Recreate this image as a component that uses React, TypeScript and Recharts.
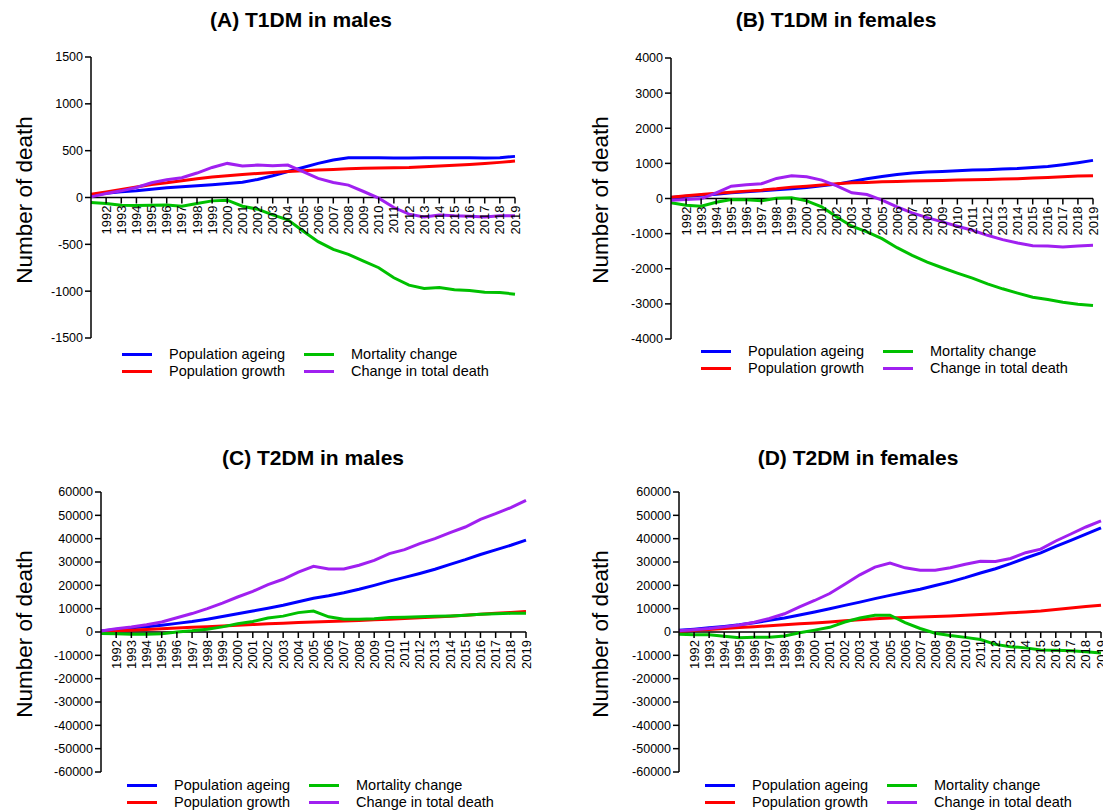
import React from 'react';
import { LineChart, Line, XAxis, YAxis, ReferenceLine, ReferenceDot } from 'recharts';

// Years on the horizontal axis (first point sits on the vertical axis)
const years = [
  1991, 1992, 1993, 1994, 1995, 1996, 1997, 1998, 1999, 2000,
  2001, 2002, 2003, 2004, 2005, 2006, 2007, 2008, 2009, 2010,
  2011, 2012, 2013, 2014, 2015, 2016, 2017, 2018, 2019,
];
// Labelled tick years
const xTickLabels = [
  1992, 1993, 1994, 1995, 1996, 1997, 1998, 1999, 2000, 2001,
  2002, 2003, 2004, 2005, 2006, 2007, 2008, 2009, 2010, 2011,
  2012, 2013, 2014, 2015, 2016, 2017, 2018, 2019,
];

// (A) T1DM in males
const ageingA = [25, 46, 60, 71, 89, 104, 114, 125, 136, 150, 164, 193, 232, 278, 321, 364, 400, 425, 425, 425, 421, 421, 425, 425, 425, 425, 421, 425, 439];
const growthA = [36, 60, 86, 111, 139, 157, 179, 200, 218, 232, 246, 257, 268, 278, 286, 293, 300, 307, 311, 314, 318, 321, 328, 336, 343, 353, 364, 375, 389];
const mortalityA = [-54, -64, -82, -86, -82, -79, -93, -64, -36, -29, -93, -125, -186, -239, -357, -471, -554, -607, -679, -750, -857, -936, -971, -961, -986, -993, -1011, -1014, -1032];
const totalA = [7, 43, 71, 107, 157, 189, 211, 261, 321, 364, 336, 346, 339, 346, 275, 204, 161, 132, 64, -7, -107, -178, -207, -186, -196, -200, -207, -196, -196];
const yTicksA = [-1500, -1000, -500, 0, 500, 1000, 1500];

// (B) T1DM in females
const ageingB = [29, 67, 95, 124, 162, 190, 219, 248, 276, 314, 362, 409, 486, 562, 628, 686, 724, 752, 771, 790, 809, 819, 838, 857, 886, 914, 962, 1019, 1085];
const growthB = [38, 76, 114, 152, 181, 210, 238, 276, 324, 352, 381, 419, 447, 457, 476, 486, 495, 505, 514, 524, 533, 543, 552, 562, 581, 600, 619, 638, 648];
const mortalityB = [-124, -190, -219, -105, -29, -38, -67, 10, 19, -67, -238, -524, -790, -952, -1143, -1400, -1619, -1810, -1971, -2124, -2267, -2429, -2571, -2695, -2810, -2876, -2952, -3010, -3048];
const totalB = [-48, -29, -10, 162, 352, 390, 419, 571, 648, 619, 524, 362, 162, 114, -48, -238, -410, -543, -667, -790, -905, -1048, -1171, -1267, -1343, -1352, -1381, -1352, -1333];
const yTicksB = [-4000, -3000, -2000, -1000, 0, 1000, 2000, 3000, 4000];

// (C) T2DM in males
const ageingC = [430, 1100, 1800, 2300, 2900, 3700, 4500, 5500, 6600, 7800, 9000, 10200, 11500, 13000, 14500, 15500, 16800, 18300, 20000, 21800, 23400, 25100, 26900, 29000, 31000, 33200, 35200, 37200, 39400];
const growthC = [200, 500, 800, 1100, 1400, 1700, 2000, 2300, 2600, 2900, 3200, 3500, 3800, 4100, 4300, 4500, 4700, 4900, 5200, 5500, 5800, 6100, 6400, 6800, 7200, 7600, 8000, 8400, 8800];
const mortalityC = [-600, -800, -1000, -1000, -800, 0, 500, 1200, 2200, 3500, 4500, 6000, 6800, 8300, 9000, 6500, 5500, 5500, 5700, 6200, 6300, 6500, 6700, 6900, 7200, 7600, 7800, 8000, 8000];
const totalC = [430, 1400, 2100, 3100, 4300, 6100, 7900, 10000, 12400, 15000, 17400, 20300, 22600, 25700, 28150, 27000, 27000, 28600, 30700, 33600, 35300, 37900, 40000, 42600, 45000, 48300, 50700, 53300, 56400];
const yTicksC = [-60000, -50000, -40000, -30000, -20000, -10000, 0, 10000, 20000, 30000, 40000, 50000, 60000];

// (D) T2DM in females
const ageingD = [700, 1200, 1800, 2400, 3100, 4000, 5000, 6000, 7300, 8600, 10000, 11400, 12800, 14300, 15700, 17000, 18300, 19900, 21500, 23300, 25300, 27100, 29300, 31700, 33900, 36700, 39300, 41900, 44600];
const growthD = [300, 700, 1100, 1500, 1900, 2300, 2700, 3100, 3500, 3900, 4300, 4800, 5200, 5700, 6000, 6200, 6400, 6600, 6900, 7200, 7500, 7800, 8200, 8600, 9000, 9600, 10300, 10900, 11500];
const mortalityD = [-1000, -1200, -1200, -1800, -2500, -2300, -2200, -1700, -300, 800, 2000, 4300, 6000, 7200, 7200, 4000, 1500, -500, -1500, -2300, -3200, -5300, -6300, -6800, -7700, -7800, -8000, -8500, -9000];
const totalD = [500, 1000, 1500, 2200, 3000, 4200, 5800, 7800, 10800, 13500, 16500, 20500, 24500, 27800, 29500, 27500, 26500, 26500, 27500, 29000, 30300, 30200, 31500, 34000, 35500, 39000, 42000, 45000, 47600];
const yTicksD = [-60000, -50000, -40000, -30000, -20000, -10000, 0, 10000, 20000, 30000, 40000, 50000, 60000];

const seriesNames = ['Population ageing', 'Population growth', 'Mortality change', 'Change in total death'];
const seriesKeys = ['ageing', 'growth', 'mortality', 'total'];
const seriesColors = ['#0000FF', '#FF0000', '#00C000', '#A020F0'];

const FONT = '"Liberation Sans", Arial, Helvetica, sans-serif';
const Y_AXIS_W = 60;

type Box = { left: number; top: number; width: number; height: number };
type Plot = { x0: number; x1: number; y0: number; y1: number };

type PanelProps = {
  title: string;
  titleAt: { cx: number; cy: number };
  box: Box;
  plot: Plot;
  yTicks: number[];
  series: number[][];
  yLabelAt: { cx: number; cy: number };
  legendAt: { x: number; y: number };
};

function buildRows(series: number[][]) {
  return years.map((yr, i) => {
    const row: Record<string, number> = { year: yr };
    seriesKeys.forEach((k, s) => {
      row[k] = series[s][i];
    });
    return row;
  });
}

// Tick mark hanging below the zero line plus a rotated year label
function YearTick({ cx, cy, label }: { cx: number; cy: number; label: string }) {
  const ty = cy + 8;
  return (
    <g>
      <line x1={cx} y1={cy} x2={cx} y2={cy + 6} stroke="#000" strokeWidth={1.5} />
      <text
        x={cx}
        y={ty}
        transform={`rotate(-90, ${cx}, ${ty})`}
        textAnchor="end"
        dominantBaseline="central"
        fontSize={13}
        fontFamily={FONT}
        fill="#000"
      >
        {label}
      </text>
    </g>
  );
}

function LegendBlock({ x, y }: { x: number; y: number }) {
  // two columns: ageing / growth, then mortality / total
  const order = [
    [0, 2],
    [1, 3],
  ];
  return (
    <div style={{ position: 'absolute', left: x, top: y - 8, fontFamily: FONT, fontSize: 14.5, color: '#000' }}>
      {order.map((row, r) => (
        <div key={r} style={{ position: 'relative', height: 17 }}>
          {row.map((s, c) => (
            <div key={s} style={{ position: 'absolute', left: c * 182, top: 0, height: 17, display: 'flex', alignItems: 'center', whiteSpace: 'nowrap' }}>
              <span style={{ display: 'inline-block', width: 30, height: 3, background: seriesColors[s] }} />
              <span style={{ marginLeft: 17, lineHeight: '17px' }}>{seriesNames[s]}</span>
            </div>
          ))}
        </div>
      ))}
    </div>
  );
}

function Panel({ title, titleAt, box, plot, yTicks, series, yLabelAt, legendAt }: PanelProps) {
  const rows = buildRows(series);
  const yMin = yTicks[0];
  const yMax = yTicks[yTicks.length - 1];
  const margin = {
    left: plot.x0 - box.left - Y_AXIS_W,
    right: box.left + box.width - plot.x1,
    top: plot.y0 - box.top,
    bottom: box.top + box.height - plot.y1,
  };
  return (
    <>
      <div
        style={{
          position: 'absolute',
          left: titleAt.cx,
          top: titleAt.cy,
          transform: 'translate(-50%, -50%)',
          fontFamily: FONT,
          fontWeight: 'bold',
          fontSize: 21,
          whiteSpace: 'nowrap',
          color: '#000',
        }}
      >
        {title}
      </div>
      <div
        style={{
          position: 'absolute',
          left: yLabelAt.cx,
          top: yLabelAt.cy,
          transform: 'translate(-50%, -50%) rotate(-90deg)',
          fontFamily: FONT,
          fontSize: 22.5,
          whiteSpace: 'nowrap',
          color: '#000',
        }}
      >
        Number of death
      </div>
      <div style={{ position: 'absolute', left: box.left, top: box.top }}>
        <LineChart width={box.width} height={box.height} data={rows} margin={margin}>
          <XAxis dataKey="year" type="number" domain={[years[0], years[years.length - 1]]} hide />
          <YAxis
            type="number"
            domain={[yMin, yMax]}
            ticks={yTicks}
            interval={0}
            width={Y_AXIS_W}
            allowDataOverflow
            axisLine={{ stroke: '#000', strokeWidth: 1.5 }}
            tickLine={{ stroke: '#000', strokeWidth: 1.5 }}
            tickSize={6}
            tick={{ fill: '#000', fontSize: 12.5, fontFamily: FONT }}
          />
          <ReferenceLine y={0} stroke="#000" strokeWidth={1.5} />
          {xTickLabels.map((yr) => (
            <ReferenceDot
              key={yr}
              x={yr}
              y={0}
              r={1}
              fill="none"
              stroke="none"
              shape={(p: any) => <YearTick cx={p.cx} cy={p.cy} label={String(yr)} />}
            />
          ))}
          {seriesKeys.map((k, s) => (
            <Line
              key={k}
              dataKey={k}
              type="linear"
              stroke={seriesColors[s]}
              strokeWidth={3}
              dot={false}
              activeDot={false}
              isAnimationActive={false}
            />
          ))}
        </LineChart>
      </div>
      <LegendBlock x={legendAt.x} y={legendAt.y} />
    </>
  );
}

export default function App() {
  return (
    <div
      style={{
        position: 'absolute',
        left: 0,
        top: 0,
        width: 1103,
        height: 810,
        overflow: 'hidden',
        background: '#fff',
      }}
    >
      <Panel
        title="(A) T1DM in males"
        titleAt={{ cx: 301, cy: 20 }}
        box={{ left: 0, top: 40, width: 560, height: 330 }}
        plot={{ x0: 91, x1: 515, y0: 57, y1: 338 }}
        yTicks={yTicksA}
        series={[ageingA, growthA, mortalityA, totalA]}
        yLabelAt={{ cx: 25, cy: 200 }}
        legendAt={{ x: 122, y: 354 }}
      />
      <Panel
        title="(B) T1DM in females"
        titleAt={{ cx: 836, cy: 20 }}
        box={{ left: 560, top: 40, width: 543, height: 330 }}
        plot={{ x0: 671, x1: 1093, y0: 58, y1: 339 }}
        yTicks={yTicksB}
        series={[ageingB, growthB, mortalityB, totalB]}
        yLabelAt={{ cx: 601, cy: 200 }}
        legendAt={{ x: 701, y: 351 }}
      />
      <Panel
        title="(C) T2DM in males"
        titleAt={{ cx: 313, cy: 458 }}
        box={{ left: 0, top: 475, width: 560, height: 335 }}
        plot={{ x0: 101, x1: 526, y0: 492, y1: 772 }}
        yTicks={yTicksC}
        series={[ageingC, growthC, mortalityC, totalC]}
        yLabelAt={{ cx: 25, cy: 634 }}
        legendAt={{ x: 127, y: 785 }}
      />
      <Panel
        title="(D) T2DM in females"
        titleAt={{ cx: 858, cy: 458 }}
        box={{ left: 560, top: 475, width: 560, height: 335 }}
        plot={{ x0: 679, x1: 1101, y0: 492, y1: 772 }}
        yTicks={yTicksD}
        series={[ageingD, growthD, mortalityD, totalD]}
        yLabelAt={{ cx: 601, cy: 634 }}
        legendAt={{ x: 705, y: 785 }}
      />
    </div>
  );
}
